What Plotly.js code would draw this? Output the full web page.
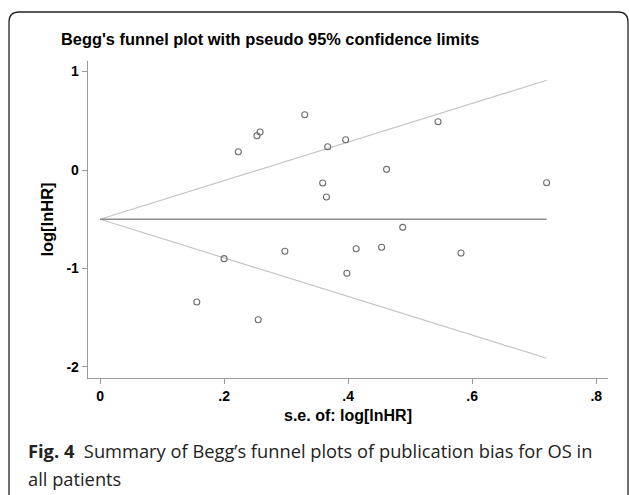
<!DOCTYPE html>
<html>
<head>
<meta charset="utf-8">
<script src="https://cdn.plot.ly/plotly-3.0.1.min.js"></script>
<style>html,body{margin:0;padding:0;background:#fff;}#chart{width:629px;height:495px;}</style>
</head>
<body>
<div id="chart"></div>
<script>
// Study data
const seValues = [0.156, 0.200, 0.223, 0.253, 0.255, 0.258, 0.298, 0.330, 0.359, 0.365,
                  0.367, 0.396, 0.398, 0.413, 0.454, 0.462, 0.488, 0.545, 0.582, 0.720];
const logHR   = [-1.34, -0.90, 0.186, 0.348, -1.52, 0.386, -0.825, 0.561, -0.132, -0.274,
                  0.237, 0.308, -1.049, -0.799, -0.785, 0.007, -0.582, 0.490, -0.843, -0.129];
const pooledEstimate = -0.5;
const xTickVals = [0, 0.2, 0.4, 0.6, 0.8];
const xTickText = ['0', '.2', '.4', '.6', '.8'];
const yTickVals = [1, 0, -1, -2];
const yTickText = ['1', '0', '-1', '-2'];

const W = 629, H = 495;
const M = {l: 88, r: 21, t: 61, b: 117};
const pw = W - M.l - M.r, ph = H - M.t - M.b;
const PX = px => (px - M.l) / pw;
const PY = py => (H - M.b - py) / ph;
const ARIAL = "Arial, 'Liberation Sans', sans-serif";

const seMax = Math.max(...seValues);
const seLine = [0, seMax];
const upper = seLine.map(s => pooledEstimate + 1.96 * s);
const lower = seLine.map(s => pooledEstimate - 1.96 * s);

const traces = [
  {x: seLine, y: upper, mode: 'lines', line: {color: '#c4c4c4', width: 1.2}, hoverinfo: 'skip'},
  {x: seLine, y: lower, mode: 'lines', line: {color: '#c4c4c4', width: 1.2}, hoverinfo: 'skip'},
  {x: seLine, y: [pooledEstimate, pooledEstimate], mode: 'lines', line: {color: '#8c8c8c', width: 1.6}, hoverinfo: 'skip'},
  {x: seValues, y: logHR, mode: 'markers', type: 'scatter',
   marker: {symbol: 'circle-open', size: 6, color: '#6e6e6e', line: {width: 1.1, color: '#6e6e6e'}}}
];

const borderPath = 'M ' + PX(9) + ' ' + PY(500) + ' L ' + PX(9) + ' ' + PY(22) +
  ' Q ' + PX(9) + ' ' + PY(12) + ' ' + PX(19) + ' ' + PY(12) +
  ' L ' + PX(618) + ' ' + PY(12) +
  ' Q ' + PX(628) + ' ' + PY(12) + ' ' + PX(628) + ' ' + PY(22) +
  ' L ' + PX(628) + ' ' + PY(500);

const layout = {
  width: W, height: H,
  margin: M,
  showlegend: false,
  paper_bgcolor: '#fff', plot_bgcolor: '#fff',
  font: {family: ARIAL, color: '#000'},
  title: {text: "<b>Begg's funnel plot with pseudo 95% confidence limits</b>",
          font: {size: 16.4, color: '#000', family: ARIAL},
          x: 61 / W, xref: 'container', xanchor: 'left', y: 1 - 39 / H, yref: 'container', yanchor: 'middle'},
  xaxis: {
    range: [-0.0194, 0.819], showgrid: false, zeroline: false,
    showline: true, linecolor: '#9a9a9a', linewidth: 1.3,
    ticks: 'outside', ticklen: 5, tickcolor: '#9a9a9a', tickwidth: 1,
    tickvals: xTickVals, ticktext: xTickText,
    tickfont: {size: 14, family: ARIAL, color: '#000', weight: 'bold'},
    title: {text: '<b>s.e. of: log[lnHR]</b>', font: {size: 16, color: '#000', family: ARIAL}, standoff: 6}
  },
  yaxis: {
    range: [-2.112, 1.107], showgrid: false, zeroline: false,
    showline: true, linecolor: '#9a9a9a', linewidth: 1.3,
    ticks: 'outside', ticklen: 5, tickcolor: '#9a9a9a', tickwidth: 1,
    tickvals: yTickVals, ticktext: yTickText,
    tickfont: {size: 14, family: ARIAL, color: '#000', weight: 'bold'},
    title: {text: '<b>log[lnHR]</b>', font: {size: 16.5, color: '#000', family: ARIAL}, standoff: 8}
  },
  shapes: [{type: 'path', xref: 'paper', yref: 'paper', path: borderPath,
            line: {color: '#222', width: 1.3}, layer: 'above'}],
  annotations: [
    {xref: 'paper', yref: 'paper', x: PX(26), y: PY(451), xanchor: 'left', yanchor: 'middle',
     showarrow: false, align: 'left',
     text: '<b>Fig. 4</b>  Summary of Begg\u2019s funnel plots of publication bias for OS in',
     font: {family: "'Open Sans', sans-serif", size: 18.3, color: '#222'}},
    {xref: 'paper', yref: 'paper', x: PX(26), y: PY(478), xanchor: 'left', yanchor: 'middle',
     showarrow: false, align: 'left', text: 'all patients',
     font: {family: "'Open Sans', sans-serif", size: 18.3, color: '#222'}}
  ]
};

Plotly.newPlot('chart', traces, layout, {displayModeBar: false, staticPlot: true});
</script>
</body>
</html>
